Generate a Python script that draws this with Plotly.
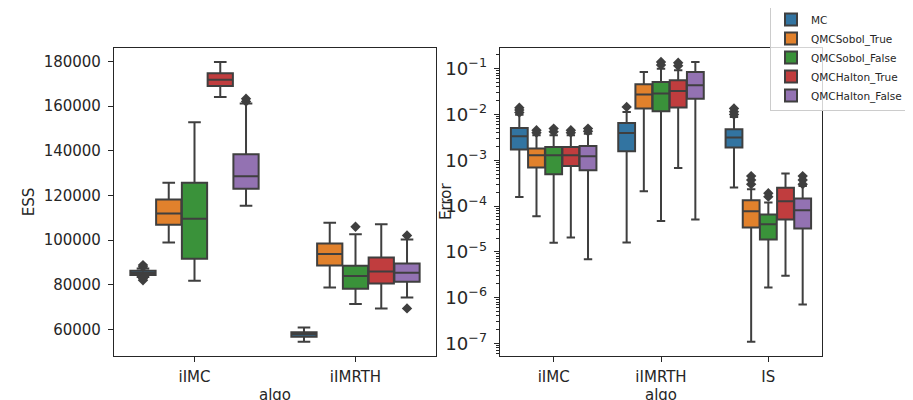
import plotly.graph_objects as go

# ---------------- data ----------------
HUES = ["MC", "QMCSobol_True", "QMCSobol_False", "QMCHalton_True", "QMCHalton_False"]
COLORS = ["#3274a1", "#e1812c", "#3a923a", "#c03d3e", "#9372b2"]

ESS_ALGOS = ["iIMC", "iIMRTH"]
# per hue: [iIMC, iIMRTH]
ESS_Q1 = {
    "MC": [84320, 56750], "QMCSobol_True": [106830, 88640], "QMCSobol_False": [91620, 78220],
    "QMCHalton_True": [168970, 80600], "QMCHalton_False": [122920, 81340]}
ESS_MED = {
    "MC": [85300, 57790], "QMCSobol_True": [111900, 93710], "QMCSobol_False": [109500, 83880],
    "QMCHalton_True": [171800, 85960], "QMCHalton_False": [128590, 85370]}
ESS_Q3 = {
    "MC": [86260, 58690], "QMCSobol_True": [118150, 98480], "QMCSobol_False": [125600, 88500],
    "QMCHalton_True": [174630, 92220], "QMCHalton_False": [138420, 89540]}
ESS_LO = {
    "MC": [83500, 54520], "QMCSobol_True": [98930, 78810], "QMCSobol_False": [81790, 71360],
    "QMCHalton_True": [164050, 69420], "QMCHalton_False": [115320, 74340]}
ESS_HI = {
    "MC": [87300, 60920], "QMCSobol_True": [125600, 107720], "QMCSobol_False": [152730, 102650],
    "QMCHalton_True": [179700, 107120], "QMCHalton_False": [161070, 100270]}
ESS_OUT = {
    "MC": [[88800, 88000, 82000, 82800], []], "QMCSobol_True": [[], []],
    "QMCSobol_False": [[], [105930]], "QMCHalton_True": [[], []],
    "QMCHalton_False": [[163300, 162000], [102060, 69420]]}

ERR_ALGOS = ["iIMC", "iIMRTH", "IS"]
# per hue: [iIMC, iIMRTH, IS]
ERR_Q1 = {
    "MC": [1.71e-3, 1.57e-3, 1.89e-3], "QMCSobol_True": [6.9e-4, 1.34e-2, 3.4e-5],
    "QMCSobol_False": [4.95e-4, 1.17e-2, 1.86e-5], "QMCHalton_True": [7.5e-4, 1.41e-2, 5.07e-5],
    "QMCHalton_False": [6.05e-4, 2.21e-2, 3.23e-5]}
ERR_MED = {
    "MC": [3.34e-3, 3.95e-3, 3.12e-3], "QMCSobol_True": [1.29e-3, 2.71e-2, 7.7e-5],
    "QMCSobol_False": [1.29e-3, 2.85e-2, 4.0e-5], "QMCHalton_True": [1.29e-3, 3.26e-2, 1.27e-4],
    "QMCHalton_False": [1.22e-3, 4.33e-2, 8.1e-5]}
ERR_Q3 = {
    "MC": [5.08e-3, 6.53e-3, 4.74e-3], "QMCSobol_True": [1.8e-3, 4.55e-2, 1.34e-4],
    "QMCSobol_False": [1.95e-3, 5.1e-2, 6.5e-5], "QMCHalton_True": [1.95e-3, 5.56e-2, 2.49e-4],
    "QMCHalton_False": [2.05e-3, 8.46e-2, 1.46e-4]}
ERR_LO = {
    "MC": [1.58e-4, 1.6e-5, 2.54e-4], "QMCSobol_True": [6.0e-5, 2.1e-4, 1.09e-7],
    "QMCSobol_False": [1.57e-5, 4.7e-5, 1.67e-6], "QMCHalton_True": [2.06e-5, 6.8e-4, 2.99e-6],
    "QMCHalton_False": [6.9e-6, 5.07e-5, 7.1e-7]}
ERR_HI = {
    "MC": [9.9e-3, 1.13e-2, 8.8e-3], "QMCSobol_True": [3.5e-3, 8.46e-2, 2.33e-4],
    "QMCSobol_False": [3.5e-3, 1.0e-1, 1.19e-4], "QMCHalton_True": [3.5e-3, 9.2e-2, 5.1e-4],
    "QMCHalton_False": [3.8e-3, 1.4e-1, 2.75e-4]}
ERR_OUT = {
    "MC": [[1.4e-2, 1.25e-2, 1.1e-2], [1.46e-2], [1.35e-2, 1.15e-2, 1.0e-2]],
    "QMCSobol_True": [[4.5e-3, 4.0e-3], [], [4.5e-4, 3.7e-4, 3.0e-4]],
    "QMCSobol_False": [[4.9e-3, 4.2e-3], [1.4e-1, 1.2e-1], [1.9e-4, 1.6e-4]],
    "QMCHalton_True": [[4.5e-3, 4.0e-3], [1.35e-1, 1.15e-1], []],
    "QMCHalton_False": [[4.9e-3, 4.3e-3], [], [4.5e-4, 3.7e-4, 3.0e-4]]}

# ---------------- figure ----------------
LINE = "#3f3f3f"
FONT = "DejaVu Sans"
W_BOX = 0.8 / len(HUES)
FW, FH = 913, 400
PAD = 8  # page body margin offset

fig = go.Figure()


def add_panel(algos, q1, med, q3, lo, hi, out, xa, ya, showlegend):
    for h, name in enumerate(HUES):
        off = (h - (len(HUES) - 1) / 2) * W_BOX
        xs = [i + off for i in range(len(algos))]
        fig.add_trace(go.Box(
            x=xs, q1=q1[name], median=med[name], q3=q3[name],
            lowerfence=lo[name], upperfence=hi[name],
            width=W_BOX * 0.98, whiskerwidth=0.5,
            fillcolor=COLORS[h], line=dict(color=LINE, width=2),
            name=name, showlegend=showlegend,
            boxpoints=False, xaxis=xa, yaxis=ya, hoverinfo="skip"))
        ox, oy = [], []
        for i, vals in enumerate(out[name]):
            for v in vals:
                ox.append(i + off)
                oy.append(v)
        if ox:
            fig.add_trace(go.Scatter(
                x=ox, y=oy, mode="markers",
                marker=dict(symbol="diamond", size=8, color=LINE, line=dict(width=0)),
                showlegend=False, xaxis=xa, yaxis=ya, hoverinfo="skip"))


add_panel(ESS_ALGOS, ESS_Q1, ESS_MED, ESS_Q3, ESS_LO, ESS_HI, ESS_OUT, "x", "y", False)
add_panel(ERR_ALGOS, ERR_Q1, ERR_MED, ERR_Q3, ERR_LO, ERR_HI, ERR_OUT, "x2", "y2", True)

axis_common = dict(showline=True, mirror=True, linecolor="#262626", linewidth=1.2,
                   ticks="outside", ticklen=5, tickwidth=1.2, tickcolor="#262626",
                   showgrid=False, zeroline=False, automargin=False)


def xd(a, b):
    return [(a - PAD) / FW, (b - PAD) / FW]


def yd(top, bottom):
    return [1 - (bottom - PAD) / FH, 1 - (top - PAD) / FH]


TFONT = dict(family=FONT, size=15, color="#262626")

fig.update_layout(
    width=FW, height=FH,
    margin=dict(l=0, r=0, t=0, b=0, autoexpand=False),
    paper_bgcolor="white", plot_bgcolor="white",
    font=dict(family=FONT, color="#262626"),
    boxmode="overlay",
    showlegend=True,
    legend=dict(x=(908 - PAD) / FW, y=1 - (4 - PAD) / FH, xanchor="right", yanchor="top",
                bgcolor="rgba(255,255,255,0.8)", bordercolor="#cccccc", borderwidth=1,
                font=dict(family=FONT, size=10.5, color="#262626"),
                tracegroupgap=0, itemwidth=30),
    xaxis=dict(domain=xd(114, 436), range=[-0.5, len(ESS_ALGOS) - 0.5],
               tickmode="array", tickvals=list(range(len(ESS_ALGOS))), ticktext=ESS_ALGOS,
               title=dict(text="algo", font=TFONT, standoff=4), ticklabelstandoff=2,
               tickfont=TFONT, anchor="y", **axis_common),
    yaxis=dict(domain=yd(48, 356), range=[48110, 185960],
               tickmode="linear", tick0=60000, dtick=20000, tickformat="d",
               title=dict(text="ESS", font=TFONT, standoff=5), ticklabelstandoff=4,
               tickfont=TFONT, anchor="x", **axis_common),
    xaxis2=dict(domain=xd(500, 822), range=[-0.5, len(ERR_ALGOS) - 0.5],
                tickmode="array", tickvals=list(range(len(ERR_ALGOS))), ticktext=ERR_ALGOS,
                title=dict(text="algo", font=TFONT, standoff=4), ticklabelstandoff=2,
                tickfont=TFONT, anchor="y2", **axis_common),
    yaxis2=dict(domain=yd(48, 356), type="log", range=[-7.276, -0.549],
                dtick=1, exponentformat="power", ticklabelstandoff=4,
                tickfont=dict(family=FONT, size=14.5, color="#262626"),
                minor=dict(ticks="outside", ticklen=3, tickcolor="#262626",
                           dtick="D1", showgrid=False),
                anchor="x2", **axis_common),
    annotations=[dict(text="Error", textangle=-90, showarrow=False,
                      xref="paper", yref="paper",
                      x=(446 - PAD) / FW, y=1 - (202 - PAD) / FH,
                      xanchor="center", yanchor="middle", font=TFONT)],
)

fig.write_html("out.html")
